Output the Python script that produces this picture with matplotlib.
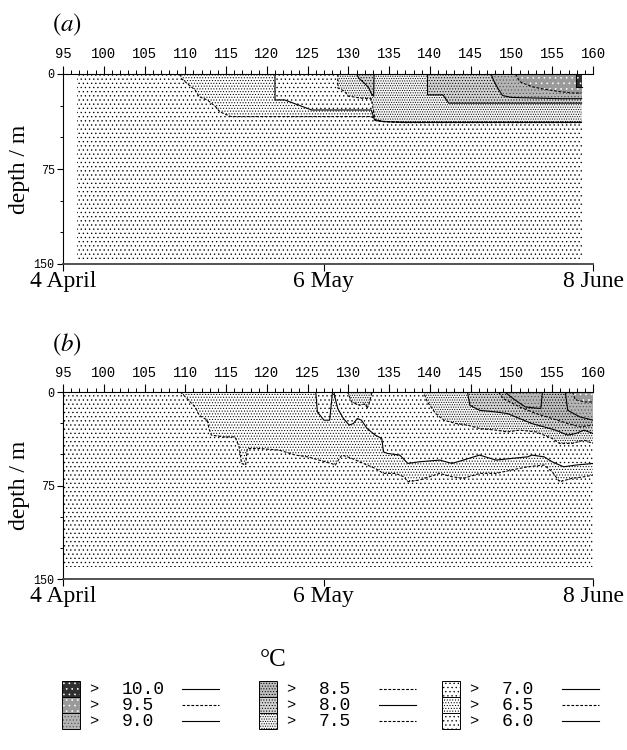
import numpy as np
import matplotlib
matplotlib.use("Agg")
import matplotlib.pyplot as plt
from matplotlib.patches import Rectangle
from matplotlib.ticker import MultipleLocator

plt.rcParams["hatch.linewidth"] = 0.45
plt.rcParams["mathtext.fontset"] = "stix"

MONO = "Liberation Mono"
SERIF = "Liberation Serif"

# ---- axis annotation ----
day_ticks = [95, 100, 105, 110, 115, 120, 125, 130, 135, 140, 145, 150, 155, 160]
date_days = [95, 127, 160]
date_labels = ["4 April", "6 May", "8 June"]
depth_ticks = [0, 75, 150]

# ---- (a): isotherm depths (m) against day of year ----
a_span_day = [96.7, 158.6]
a_span_dep = [148, 148]

a_day_65 = [109.4, 109.5, 110.2, 111.2, 111.7, 112.7, 113.7, 114.2, 115.1, 115.6,
            132.8, 133.1, 133.3, 134.3, 136.8, 158.6]
a_dep_65 = [0, 3.4, 7.4, 12.6, 17.9, 20.5, 25.7, 29.7, 32.3, 33.6,
            33.6, 34.9, 36.8, 37.6, 38.4, 38.4]
a_day_70 = [121.0, 121.0, 122.2, 124.5, 125.5, 132.8, 133.2, 134.3, 136.8, 158.6]
a_dep_70 = [0, 20.5, 20.5, 26, 28.4, 28.4, 36, 37.6, 38.2, 38.2]
a_day_75 = [128.7, 128.7, 129.5, 130.0, 131.5, 132.8, 133.1, 133.3, 134.3, 136.8, 158.6]
a_dep_75 = [0, 11, 13.5, 17.5, 19, 19.5, 30, 36.5, 37.4, 38.0, 38.0]
a_day_80 = [131.0, 131.3, 132.0, 132.5, 132.9, 133.1, 133.15, 139.7, 139.7, 141.6, 142.3, 158.6]
a_dep_80 = [0, 3.5, 7.5, 11, 16.5, 17.5, 0, 0, 16.5, 16.5, 23, 23]
a_day_90 = [147.5, 147.8, 148.3, 148.9, 150.0, 153.0, 156.0, 158.6]
a_dep_90 = [0, 5, 11, 17, 18.5, 19, 19.5, 19.5]
a_day_95 = [150.5, 151.0, 152.5, 154.0, 156.0, 157.5, 158.6]
a_dep_95 = [0, 6, 10, 12, 14, 15, 15]
a_day_100 = [157.9, 157.9, 158.6]
a_dep_100 = [0, 10, 10]

# ---- (b) ----
b_span_day = [95.0, 160.0]
b_span_dep = [140, 140]

b_day_65 = [109.4, 110.2, 111.2, 111.7, 112.7, 112.9, 113.2, 114.7, 116.1, 116.6, 116.9,
            117.4, 117.6, 119.1, 121.5, 123.5, 125.0, 126.4, 127.9, 128.4, 128.9, 129.2,
            129.9, 130.9, 132.3, 133.3, 134.3, 135.8, 136.8, 137.3, 138.7, 141.2, 142.7,
            144.1, 146.1, 148.1, 150.0, 152.0, 154.0, 155.0, 155.9, 157.4, 158.9, 160.0]
b_dep_65 = [0, 5.3, 12, 18.7, 22.6, 29.3, 34.6, 36, 36, 44, 57.3,
            58.6, 45.3, 45.3, 46.6, 50.6, 52, 54.6, 57.3, 58.6, 53.3, 50.6,
            52, 54.6, 58.6, 61.3, 65.3, 65.3, 68, 72, 70.6, 65.3, 68,
            69.3, 65.3, 65.3, 62.6, 60, 58.6, 64, 72, 69.3, 68, 66.6]
b_day_70 = [126.0, 126.2, 127.0, 127.7, 127.9, 128.05, 128.25, 128.3, 128.7, 129.4, 130.1,
            130.6, 131.1, 131.6, 132.3, 133.3, 134.1, 134.3, 134.8, 136.3, 137.3, 138.7,
            141.2, 142.7, 144.1, 146.1, 148.1, 150.0, 152.0, 152.5, 154.0, 155.0, 156.4,
            157.9, 160.0]
b_dep_70 = [0, 16, 22.6, 22.6, 10, 0, 0, 3, 13.3, 21.3, 26.6,
            25.3, 21.3, 22.6, 29.3, 34.6, 37.3, 48, 49.3, 50.6, 57.3, 56,
            54.6, 57.3, 54.6, 50.6, 54.6, 53.3, 52, 50.6, 52, 56, 60,
            58.6, 57.3]
b_day_75 = [129.9, 130.4, 131.4, 132.1, 132.3, 132.6, 132.8, 132.9, 139.2, 139.7, 140.7,
            141.7, 143.2, 144.6, 146.1, 148.1, 149.5, 151.0, 153.0, 155.0, 155.9, 157.4,
            158.9, 160.0]
b_dep_75 = [0, 8, 10.7, 9.3, 13.3, 8, 2.7, 0, 0, 8, 17.3,
            22.6, 25.3, 26.6, 29.3, 30.6, 32, 30.6, 32, 37.3, 41.3, 41.3,
            38.6, 41.3]
b_day_80 = [144.6, 144.9, 146.1, 148.1, 149.5, 151.0, 152.5, 154.0, 155.4, 156.9, 157.9,
            158.9, 160.0]
b_dep_80 = [0, 10.7, 14.7, 16, 17.3, 21.3, 25.3, 28, 30.6, 34.6, 33.3, 30.6, 33.3]
b_day_85 = [148.4, 149.0, 151.0, 153.0, 155.0, 156.9, 158.4, 160.0]
b_dep_85 = [0, 5.3, 12, 17.3, 21.3, 25.3, 28, 26.6]
b_day_90 = [149.2, 150.2, 151.7, 153.6, 153.8, 156.6, 156.9, 158.4, 160.0]
b_dep_90 = [0, 5.3, 12, 13.3, 0, 0, 14.7, 20, 22.6]
b_day_95 = [157.5, 157.8, 159.0, 160.0]
b_dep_95 = [0, 6, 8, 8]

# legend columns (warmest first)
legend_cols = [[10.0, 9.5, 9.0], [8.5, 8.0, 7.5], [7.0, 6.5, 6.0]]

# shading of each temperature class: facecolor, hatch, dot colour
SHADE = {
    6.0: ("white", "....", "black"),
    6.5: ("white", "......", "black"),
    7.0: ("white", "....", "black"),
    7.5: ("#f4f4f4", ".......", "black"),
    8.0: ("#d2d2d2", "......", "black"),
    8.5: ("#bdbdbd", "......", "black"),
    9.0: ("#b4b4b4", ".....", "#555555"),
    9.5: ("#9a9a9a", "...", "white"),
    10.0: ("#303030", "...", "white"),
}
LSTYLE = {6.0: "-", 6.5: "--", 7.0: "-", 7.5: "--", 8.0: "-", 8.5: "--",
          9.0: "-", 9.5: "--", 10.0: "-"}
DASH = (0, (2.5, 1.5))


def shade(ax, lev, d, z):
    fc, hatch, hc = SHADE[lev]
    ax.fill_between(d, 0, z, facecolor=fc, hatch=hatch, edgecolor=hc, linewidth=0, zorder=1)


def panel(ax, span, iso):
    shade(ax, 6.0, span[0], span[1])
    for lev, d, z in iso:
        shade(ax, lev, d, z)
    for lev, d, z in iso:
        ls = DASH if LSTYLE[lev] == "--" else "-"
        ax.plot(d, z, color="black", lw=0.8, ls=ls, zorder=3)

    ax.set_xlim(95, 160)
    ax.set_ylim(150, 0)
    ax.xaxis.tick_top()
    ax.set_xticks(day_ticks)
    ax.xaxis.set_minor_locator(MultipleLocator(1))
    ax.tick_params(axis="x", which="major", direction="out", length=6, width=0.8,
                   pad=3, labelsize=10)
    ax.tick_params(axis="x", which="minor", direction="out", length=3, width=0.7)
    for t in ax.get_xticklabels():
        t.set_fontfamily(MONO)
    ax.set_yticks(depth_ticks)
    ax.yaxis.set_minor_locator(MultipleLocator(25))
    ax.tick_params(axis="y", which="major", direction="out", length=4, width=0.8,
                   pad=2, labelsize=8.5)
    ax.tick_params(axis="y", which="minor", direction="out", length=2.5, width=0.7)
    for t in ax.get_yticklabels():
        t.set_fontfamily(MONO)
    ax.spines["right"].set_visible(False)
    for s in ("top", "left"):
        ax.spines[s].set_linewidth(0.8)
    ax.spines["bottom"].set_linewidth(1.3)
    ax.spines["bottom"].set_color("#444444")

    sec = ax.secondary_xaxis("bottom")
    sec.set_xticks(date_days, labels=date_labels)
    sec.tick_params(direction="out", length=5, width=0.8, pad=0, labelsize=17)
    for t in sec.get_xticklabels():
        t.set_fontfamily(SERIF)
    sec.spines["bottom"].set_visible(False)


fig = plt.figure(figsize=(6.27, 7.5), dpi=100)
lax = fig.add_axes([0, 0, 1, 1])
lax.set_xlim(0, 627)
lax.set_ylim(750, 0)
lax.axis("off")

ax_a = fig.add_axes([63 / 627, 1 - 264 / 750, 530 / 627, 190 / 750])
ax_b = fig.add_axes([63 / 627, 1 - 579 / 750, 530 / 627, 187 / 750])

panel(ax_a, (a_span_day, a_span_dep),
      [(6.5, a_day_65, a_dep_65), (7.0, a_day_70, a_dep_70), (7.5, a_day_75, a_dep_75),
       (8.0, a_day_80, a_dep_80), (9.0, a_day_90, a_dep_90), (9.5, a_day_95, a_dep_95),
       (10.0, a_day_100, a_dep_100)])
panel(ax_b, (b_span_day, b_span_dep),
      [(6.5, b_day_65, b_dep_65), (7.0, b_day_70, b_dep_70), (7.5, b_day_75, b_dep_75),
       (8.0, b_day_80, b_dep_80), (8.5, b_day_85, b_dep_85), (9.0, b_day_90, b_dep_90),
       (9.5, b_day_95, b_dep_95)])

# panel letters and axis titles
lax.text(67, 25, r"$(\mathit{a})$", fontsize=18, ha="center", va="center")
lax.text(67, 345, r"$(\mathit{b})$", fontsize=18, ha="center", va="center")
lax.text(20, 169, "depth / m", rotation=90, fontsize=17, family=SERIF, ha="center", va="center")
lax.text(20, 485, "depth / m", rotation=90, fontsize=17, family=SERIF, ha="center", va="center")

# legend
lax.text(273, 660, "°C", fontsize=18, family=SERIF, ha="center", va="center")
col_x = [62, 259, 442]
row_top = 681
row_h = 16
for x0, col in zip(col_x, legend_cols):
    for i, lev in enumerate(col):
        y0 = row_top + i * row_h
        fc, hatch, hc = SHADE[lev]
        lax.add_patch(Rectangle((x0, y0), 18, row_h, facecolor=fc, hatch=hatch,
                                edgecolor=hc, linewidth=0))
        lax.add_patch(Rectangle((x0, y0), 18, row_h, facecolor="none",
                                edgecolor="black", linewidth=0.7))
        yc = y0 + row_h / 2
        lax.text(x0 + 32, yc, ">", fontsize=11, family=MONO, ha="center", va="center")
        lax.text(x0 + 60, yc, f"{lev:.1f}", fontsize=13, family=MONO, ha="left", va="center")
        ls = DASH if LSTYLE[lev] == "--" else "-"
        lax.plot([x0 + 120, x0 + 157], [yc, yc], color="black", lw=0.8, ls=ls)

fig.savefig("out.png", dpi=100)
